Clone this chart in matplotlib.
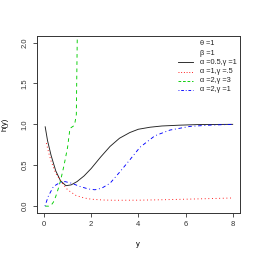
import matplotlib
matplotlib.use("Agg")
import matplotlib.pyplot as plt
from matplotlib.lines import Line2D

plt.rcParams['font.family'] = ['Liberation Sans', 'DejaVu Sans']

# alpha=0.5, gamma=1 (black solid)
x_black = [0.05, 0.15, 0.3, 0.5, 0.7, 0.93, 1.15, 1.4, 1.7, 2.0, 2.4, 2.8, 3.2, 3.64, 4.0, 4.5, 5.0, 5.76, 6.5, 8.0]
y_black = [0.97, 0.80, 0.62, 0.43, 0.31, 0.25, 0.26, 0.30, 0.37, 0.46, 0.60, 0.73, 0.83, 0.90, 0.94, 0.965, 0.98, 0.99, 0.997, 1.0]
# alpha=1, gamma=.5 (red dotted)
x_red = [0.1, 0.2, 0.3, 0.5, 0.72, 1.0, 1.36, 1.7, 2.0, 2.5, 3.0, 4.0, 5.0, 6.0, 7.0, 8.0]
y_red = [0.77, 0.65, 0.55, 0.40, 0.30, 0.20, 0.13, 0.10, 0.085, 0.075, 0.072, 0.073, 0.078, 0.085, 0.092, 0.10]
# alpha=2, gamma=3 (green dashed)
x_green = [0.05, 0.2, 0.3, 0.4, 0.5, 0.6, 0.7, 0.85, 1.0, 1.1, 1.25, 1.3, 1.37, 1.42]
y_green = [0.0, 0.0, 0.01, 0.05, 0.12, 0.21, 0.31, 0.50, 0.72, 0.95, 0.98, 1.0, 1.12, 2.3]
# alpha=2, gamma=1 (blue dot-dash)
x_blue = [0.04, 0.18, 0.40, 0.68, 0.89, 1.17, 1.53, 1.88, 2.16, 2.45, 2.8, 3.22, 3.65, 4.07, 4.7, 5.34, 6.19, 7.0, 8.0]
y_blue = [0.0, 0.12, 0.24, 0.29, 0.30, 0.28, 0.24, 0.21, 0.20, 0.22, 0.28, 0.42, 0.57, 0.72, 0.86, 0.93, 0.975, 0.99, 1.0]

xticks = [0, 2, 4, 6, 8]
yticks = [0.0, 0.5, 1.0, 1.5, 2.0]
ytick_labels = ["0.0", "0.5", "1.0", "1.5", "2.0"]
legend_labels = ["θ =1", "β =1", "α =0.5,γ =1", "α =1,γ =.5", "α =2,γ =3", "α =2,γ =1"]

fig = plt.figure(figsize=(2.59, 2.59), dpi=100)
ax = fig.add_axes([0.1417, 0.1788, 0.7849, 0.6822])
lw = 0.65
ax.plot(x_black, y_black, color='#222222', lw=lw, ls='-')
ax.plot(x_red, y_red, color='red', lw=lw, ls=(0, (1, 3)))
ax.plot(x_green, y_green, color='#00CD00', lw=lw, ls=(0, (4, 4)))
ax.plot(x_blue, y_blue, color='blue', lw=lw, ls=(0, (1, 3, 4, 3)))

ax.set_xlim(-0.31, 8.31)
ax.set_ylim(-0.08, 2.08)
ax.set_xticks(xticks)
ax.set_xticklabels([str(t) for t in xticks])
ax.set_yticks(yticks)
ax.set_yticklabels(ytick_labels, rotation=90, va='center')
ax.tick_params(labelsize=5.5, length=3, width=0.6, pad=3, colors='#333333')
for s in ax.spines.values():
    s.set_linewidth(0.7)
    s.set_color('#333333')
ax.set_xlabel('y', fontsize=5.5, labelpad=9)
ax.set_ylabel('h(y)', fontsize=5.5, labelpad=9)

# legend (manual, no box)
styles = [None, None,
          dict(color='#222222', ls='-'),
          dict(color='red', ls=(0, (1, 2))),
          dict(color='#00CD00', ls=(0, (3, 2))),
          dict(color='blue', ls=(0, (1, 2, 3, 2)))]
y0 = 0.955
dy = 0.052
for i, (lab, st) in enumerate(zip(legend_labels, styles)):
    yy = y0 - i * dy
    ax.text(0.805, yy, lab, transform=ax.transAxes, fontsize=5.3, va='center', ha='left', color='#222222')
    if st is not None:
        ax.add_line(Line2D([0.695, 0.769], [yy, yy], transform=ax.transAxes, lw=lw, **st))

fig.savefig('out.png', dpi=100)
